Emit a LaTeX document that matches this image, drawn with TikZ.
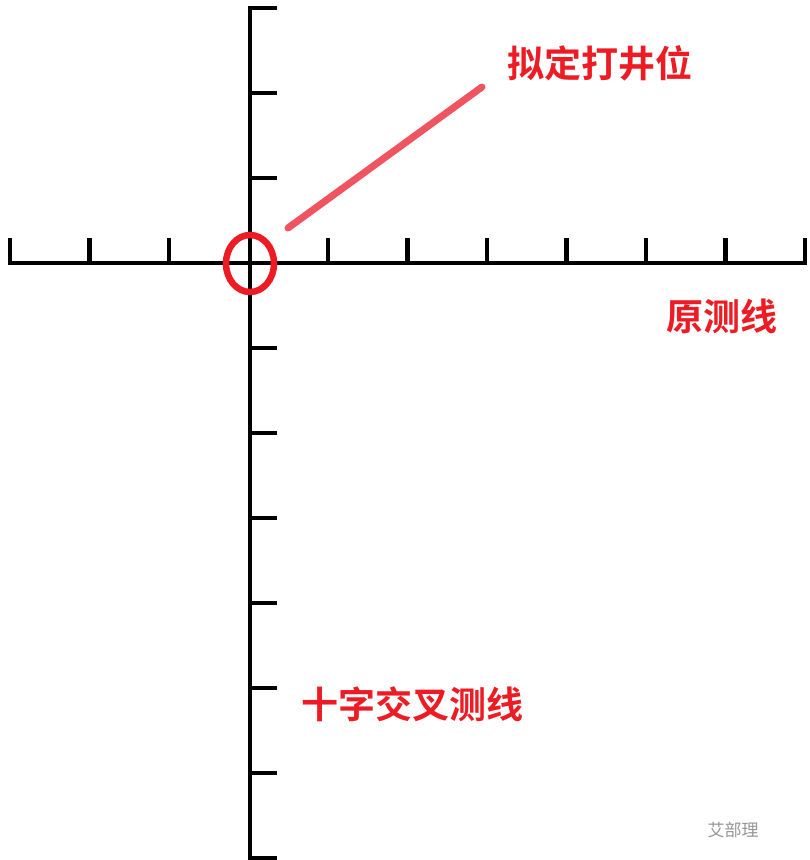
\documentclass[tikz,border=0pt]{standalone}
\usepackage{fontspec}
\usetikzlibrary{shapes.geometric}
\newfontfamily\cjk{Noto Sans CJK SC}[BoldFont={* Bold}]
\definecolor{labelred}{RGB}{237,28,36}
\definecolor{pointerred}{RGB}{240,84,96}
\definecolor{markgray}{RGB}{150,150,150}
\begin{document}
\begin{tikzpicture}[x=1pt,y=-1pt,
  axis/.style={line width=4.6pt,black,line join=miter},
  tick/.style={line width=4.6pt,black},
  label/.style={font=\cjk\bfseries\fontsize{37}{40}\selectfont,text=labelred,inner sep=0pt},
  marker/.style={line width=6.5pt,labelred},
  pointer/.style={line width=7pt,pointerred,line cap=round},
  watermark/.style={font=\cjk\fontsize{17}{19}\selectfont,text=markgray,inner sep=0pt}]
\useasboundingbox[fill=white] (0,0) rectangle (810,860);
% vertical (cross) line
\coordinate (vtop) at (250,8);
\coordinate (vbot) at (250,858);
\draw[axis] (277,8) -- (vtop) -- (vbot) -- (277,858);
\foreach \k in {1,2,4,5,6,7,8,9}
  \draw[tick] (250,8+85*\k) -- (277,8+85*\k);
% horizontal (original) line
\coordinate (hleft) at (10,263);
\coordinate (hright) at (805,263);
\draw[axis] (10,238) -- (hleft) -- (hright) -- (805,238);
\foreach \k in {1,2,4,5,6,7,8,9}
  \draw[tick] (10+79.5*\k,238) -- (10+79.5*\k,263);
% planned well position
\node[marker,draw,ellipse,minimum width=48pt,minimum height=57pt,inner sep=0pt] (well) at (250,263.5) {};
\coordinate (pstart) at (288,228);
\coordinate (pend) at (482,87);
\draw[pointer] (pstart) -- (pend);
% labels
\node[label] (lwell) at (600,63) {拟定打井位};
\node[label] (lorig) at (722,316) {原测线};
\node[label] (lcross) at (412,704) {十字交叉测线};
\node[watermark] (wm) at (733,830) {艾部理};
\end{tikzpicture}
\end{document}
